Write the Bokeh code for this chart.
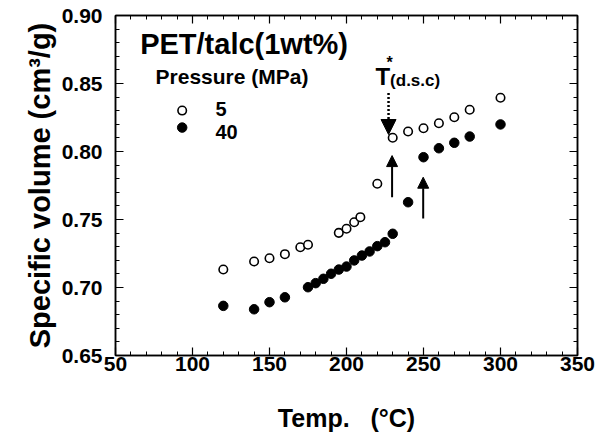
from bokeh.plotting import figure
from bokeh.models import LinearAxis, Range1d, Label, Arrow, NormalHead, FixedTicker, CustomJSTickFormatter
from bokeh.embed import file_html
from bokeh.resources import INLINE

# ---- data ----
temp_5 = [120, 140, 150, 160, 170, 175, 195, 200, 205, 209, 220, 230, 240, 250, 260, 270, 280, 300]
vol_5 = [0.7132, 0.7191, 0.7215, 0.7245, 0.7296, 0.7314, 0.7402, 0.7432, 0.7480, 0.7517,
         0.7763, 0.8101, 0.8147, 0.8171, 0.8208, 0.8252, 0.8307, 0.8395]
temp_40 = [120, 140, 150, 160, 175, 180, 185, 190, 195, 200, 205, 210, 215, 220, 225, 230,
           240, 250, 260, 270, 280, 300]
vol_40 = [0.6865, 0.6840, 0.6892, 0.6928, 0.7002, 0.7032, 0.7064, 0.7101, 0.7132, 0.7154,
          0.7199, 0.7235, 0.7265, 0.7304, 0.7333, 0.7395, 0.7627, 0.7958, 0.8024, 0.8064,
          0.8110, 0.8199]
x_ticks = [50, 100, 150, 200, 250, 300, 350]
y_ticks = [0.65, 0.70, 0.75, 0.80, 0.85, 0.90]
legend_labels = ["5", "40"]
tdsc_temp = 227.3
arrow_temps = [229.6, 249.8]

FONT = "Liberation Sans"
X_MINOR = list(range(50, 351, 10))
Y_MINOR = [round(0.65 + 0.01 * i, 2) for i in range(26)]

p = figure(width=606, height=434, output_backend="svg", toolbar_location=None,
           x_range=Range1d(50, 350), y_range=Range1d(0.65, 0.90),
           min_border_left=115, min_border_right=29, min_border_top=15, min_border_bottom=79)
p.grid.visible = False
p.outline_line_color = "black"
p.outline_line_width = 1.5
p.background_fill_color = "white"
p.border_fill_color = "white"

def style_axis(ax):
    ax.axis_line_color = "black"
    ax.axis_line_width = 1.5
    ax.major_tick_in = 8
    ax.major_tick_out = 0
    ax.minor_tick_in = 4
    ax.minor_tick_out = 0
    ax.major_tick_line_width = 1.2
    ax.minor_tick_line_width = 1.0
    ax.major_label_text_font = FONT
    ax.major_label_text_font_style = "bold"
    ax.major_label_text_font_size = "21px"
    ax.major_label_text_color = "black"
    ax.axis_label_text_font = FONT
    ax.axis_label_text_font_style = "bold"
    ax.axis_label_text_color = "black"

xax = p.xaxis[0]
yax = p.yaxis[0]
xax.ticker = FixedTicker(ticks=x_ticks, minor_ticks=X_MINOR)
yax.ticker = FixedTicker(ticks=y_ticks, minor_ticks=Y_MINOR)
style_axis(xax)
style_axis(yax)
xax.axis_label = "Temp.\u00a0\u00a0 (°C)"
xax.axis_label_text_font_size = "25px"
xax.axis_label_standoff = 30
xax.major_label_standoff = 1
yax.axis_label = "Specific volume (cm³/g)"
yax.axis_label_text_font_size = "29px"
yax.axis_label_standoff = 3
yax.major_label_standoff = 13
yax.formatter = CustomJSTickFormatter(code="return tick.toFixed(2);")

blank = CustomJSTickFormatter(code="return '';")
top = LinearAxis(ticker=FixedTicker(ticks=x_ticks, minor_ticks=X_MINOR), formatter=blank)
style_axis(top)
top.major_label_standoff = 0
p.add_layout(top, "above")
right = LinearAxis(ticker=FixedTicker(ticks=y_ticks, minor_ticks=Y_MINOR), formatter=blank)
style_axis(right)
right.major_label_standoff = 0
p.add_layout(right, "right")

# ---- data points ----
p.scatter(temp_5, vol_5, marker="circle", size=8.5, fill_color="white", line_color="black", line_width=1.6)
p.scatter(temp_40, vol_40, marker="circle", size=9.5, fill_color="black", line_color="black")

# ---- legend (manual) ----
DY = 0.0066
def lab(x, y, text, size):
    p.add_layout(Label(x=x, y=y + DY, text=text, text_font=FONT, text_font_style="bold",
                       text_font_size=size, text_baseline="alphabetic", text_color="black"))

lab(66, 0.8721, "PET/talc(1wt%)", "29px")
lab(76, 0.8485, "Pressure (MPa)", "21px")
p.scatter([93.3], [0.8301], marker="circle", size=8.5, fill_color="white", line_color="black", line_width=1.6)
p.scatter([93.3], [0.8176], marker="circle", size=9.5, fill_color="black", line_color="black")
lab(114.9, 0.825, legend_labels[0], "20px")
lab(114.9, 0.8081, legend_labels[1], "20px")

# ---- T*(d.s.c) annotation ----
lab(218.8, 0.8485, "T", "24px")
lab(226.0, 0.8585, "*", "16px")
lab(228.3, 0.8455, "(d.s.c)", "17px")
p.add_layout(Arrow(x_start=tdsc_temp, y_start=0.843, x_end=tdsc_temp, y_end=0.8125,
                   line_color="black", line_width=2.5, line_dash="2 2",
                   end=NormalHead(size=15, fill_color="black", line_color="black", line_width=1)))
p.add_layout(Arrow(x_start=arrow_temps[0], y_start=0.7664, x_end=arrow_temps[0], y_end=0.797,
                   line_color="black", line_width=2,
                   end=NormalHead(size=11, fill_color="black", line_color="black", line_width=1)))
p.add_layout(Arrow(x_start=arrow_temps[1], y_start=0.7507, x_end=arrow_temps[1], y_end=0.7811,
                   line_color="black", line_width=2,
                   end=NormalHead(size=11, fill_color="black", line_color="black", line_width=1)))

open("out.html", "w").write(file_html(p, INLINE))
